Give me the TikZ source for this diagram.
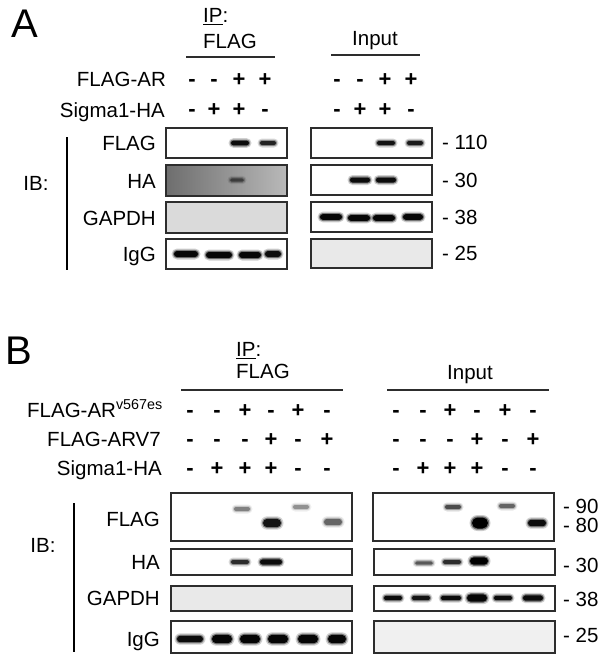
\documentclass[tikz,border=0pt]{standalone}
\usepackage{fontspec}
\setmainfont{Liberation Sans}
\usetikzlibrary{calc}
\definecolor{blot-frame}{RGB}{45, 45, 45}
\definecolor{blot-dark}{RGB}{110, 110, 110}
\definecolor{blot-mid}{RGB}{185, 185, 185}
\definecolor{blot-grey}{RGB}{218, 218, 218}
\definecolor{blot-light}{RGB}{233, 233, 233}
\definecolor{blot-pale}{RGB}{240, 240, 240}
\newcommand{\blotband}[5]{%
  \pgfmathsetmacro\bandhalo{0.2*#5}%
  \pgfmathsetmacro\bandmid{0.45*#5}%
  \pgfmathsetmacro\bandro{#4+2.5}%
  \pgfmathsetmacro\bandrm{#4+1.2}%
  \fill[black, opacity=\bandhalo, rounded corners=\bandro pt] ({#1-#3-2.5},{#2-#4-2.5}) rectangle ({#1+#3+2.5},{#2+#4+2.5});
  \fill[black, opacity=\bandmid, rounded corners=\bandrm pt] ({#1-#3-1.2},{#2-#4-1.2}) rectangle ({#1+#3+1.2},{#2+#4+1.2});
  \fill[black, opacity=#5, rounded corners=#4pt] ({#1-#3},{#2-#4}) rectangle ({#1+#3},{#2+#4});}

\begin{document}
\begin{tikzpicture}[x=1pt, y=-1pt,
    txt/.style={inner sep=0pt, text height=14.7pt, text depth=0pt, font=\fontsize{20.5}{24}\selectfont},
    sign/.style={inner sep=0pt, text height=15pt, text depth=0pt, font=\fontsize{22}{24}\selectfont\bfseries},
    panel/.style={inner sep=0pt, font=\fontsize{40}{42}\selectfont},
    blot/.style={draw=blot-frame, line width=1.3pt},
    bar/.style={draw=blot-frame, line width=1.8pt}]
\useasboundingbox (0,0) rectangle (604,664);

\node[panel] (lblA) at (25,24) {A};
\node[txt, anchor=west] (ipA) at (203,15) {\underline{IP}:};
\node[txt, anchor=west] (ipflagA) at (203,41) {FLAG};
\draw[bar] (186,57) -- (275,57);
\node[txt] (inputA) at (375,38) {Input};
\draw[bar] (331,55) -- (420,55);
\node[txt, anchor=east] (flagarA) at (166,79) {FLAG-AR};
\node[txt, anchor=east] (sigmaA) at (165,110) {Sigma1-HA};
\foreach \x/\s/\t in {192/-/-, 214/-/+, 239/+/+, 265/+/-, 337/-/-, 360/-/+, 385/+/+, 411/+/-} {
  \node[sign] at (\x,79) {\s};
  \node[sign] at (\x,109) {\t};
}
\node[txt] (ibA) at (36,183) {IB:};
\draw[line width=1.6pt] (67,137) -- (67,270);
\node[txt, anchor=east] (flagA) at (156,143) {FLAG};
\node[txt, anchor=east] (haA) at (156,181) {HA};
\node[txt, anchor=east] (gapdhA) at (156,218) {GAPDH};
\node[txt, anchor=east] (iggA) at (156,254) {IgG};
\node[txt, anchor=west] (kdaA1) at (442,142) {- 110};
\node[txt, anchor=west] (kdaA2) at (442,180) {- 30};
\node[txt, anchor=west] (kdaA3) at (442,217) {- 38};
\node[txt, anchor=west] (kdaA4) at (442,253) {- 25};

\filldraw[fill=white, blot] (166,128) rectangle (287,158);
\blotband{240}{143}{9}{2.3}{0.9}
\blotband{268}{143}{8}{2}{0.75}
\shade[left color=blot-dark, right color=blot-mid] (166,165) rectangle (287,196);
\blotband{237}{180}{7}{1.6}{0.45}
\draw[blot] (166,165) rectangle (287,196);
\filldraw[fill=blot-grey, blot] (166,202) rectangle (287,233);
\filldraw[fill=white, blot] (166,239) rectangle (287,269);
\blotband{186}{254}{12}{3}{0.95}
\blotband{219}{255}{13}{3}{0.95}
\blotband{250}{255}{11}{3}{0.95}
\blotband{273}{254}{8}{3}{0.9}

\filldraw[fill=white, blot] (311,128) rectangle (432,158);
\blotband{386}{143}{9}{2}{0.85}
\blotband{415}{143}{8}{2}{0.8}
\filldraw[fill=white, blot] (311,165) rectangle (432,195);
\blotband{360}{180}{10}{2.5}{0.9}
\blotband{386}{180}{10}{2.5}{0.9}
\filldraw[fill=white, blot] (311,202) rectangle (432,232);
\blotband{331}{217}{11}{2.8}{0.95}
\blotband{359}{218}{11}{2.8}{0.95}
\blotband{384}{218}{11}{2.8}{0.95}
\blotband{413}{217}{10}{2.8}{0.95}
\filldraw[fill=blot-light, blot] (311,239) rectangle (432,268);

\node[panel] (lblB) at (19,351) {B};
\node[txt, anchor=west] (ipB) at (236,349) {\underline{IP}:};
\node[txt, anchor=west] (ipflagB) at (236,371) {FLAG};
\draw[bar] (181,390) -- (343,390);
\node[txt] (inputB) at (470,372) {Input};
\draw[bar] (387,390) -- (549,390);
\node[txt, anchor=east] (flagv567B) at (163,410) {FLAG-AR\textsuperscript{v567es}};
\node[txt, anchor=east] (flagv7B) at (161,439) {FLAG-ARV7};
\node[txt, anchor=east] (sigmaB) at (162,468) {Sigma1-HA};
\foreach \x/\r/\s/\t in {190/-/-/-, 217/-/-/+, 245/+/-/+, 271/-/+/+, 298/+/-/-, 327/-/+/-,
                         396/-/-/-, 423/-/-/+, 450/+/-/+, 477/-/+/+, 505/+/-/-, 533/-/+/-} {
  \node[sign] at (\x,410) {\r};
  \node[sign] at (\x,439) {\s};
  \node[sign] at (\x,468) {\t};
}
\node[txt] (ibB) at (43,545) {IB:};
\draw[line width=1.6pt] (74,503) -- (74,652);
\node[txt, anchor=east] (flagB) at (160,519) {FLAG};
\node[txt, anchor=east] (haB) at (160,562) {HA};
\node[txt, anchor=east] (gapdhB) at (160,598) {GAPDH};
\node[txt, anchor=east] (iggB) at (160,639) {IgG};
\node[txt, anchor=west] (kdaB1) at (563,506) {- 90};
\node[txt, anchor=west] (kdaB2) at (563,525) {- 80};
\node[txt, anchor=west] (kdaB3) at (563,565) {- 30};
\node[txt, anchor=west] (kdaB4) at (563,599) {- 38};
\node[txt, anchor=west] (kdaB5) at (563,635) {- 25};

\filldraw[fill=white, blot] (171,493) rectangle (352,541);
\blotband{242}{509}{8}{2}{0.35}
\blotband{272}{523}{9}{4.2}{0.85}
\blotband{301}{507}{8}{2}{0.3}
\blotband{333}{522}{9}{3.2}{0.45}
\filldraw[fill=white, blot] (171,549) rectangle (352,575);
\blotband{240}{562}{9}{2}{0.7}
\blotband{271}{562}{11}{2.6}{0.9}
\filldraw[fill=blot-light, blot] (171,586) rectangle (352,611);
\filldraw[fill=white, blot] (171,621) rectangle (352,653);
\blotband{190}{639}{13}{3.2}{0.9}
\blotband{222}{639}{10}{4.2}{0.95}
\blotband{250}{639}{10}{4.2}{0.95}
\blotband{278}{639}{10}{4.2}{0.95}
\blotband{308}{639}{10}{4.2}{0.95}
\blotband{337}{639}{9}{4.2}{0.95}

\filldraw[fill=white, blot] (373,493) rectangle (554,541);
\blotband{453}{507}{8}{2}{0.55}
\blotband{480}{523}{8}{5.5}{1}
\blotband{507}{506}{8}{2}{0.45}
\blotband{537}{523}{9}{3.2}{0.9}
\filldraw[fill=white, blot] (374,549) rectangle (555,575);
\blotband{424}{563}{9}{1.6}{0.5}
\blotband{452}{562}{9}{2}{0.7}
\blotband{479}{561}{9}{3.6}{1}
\filldraw[fill=white, blot] (374,586) rectangle (555,611);
\blotband{393}{598}{9}{2.2}{0.9}
\blotband{421}{598}{9}{2.2}{0.85}
\blotband{451}{598}{10}{2.2}{0.9}
\blotband{477}{598}{10}{3.6}{0.95}
\blotband{503}{598}{9}{2.2}{0.9}
\blotband{533}{598}{10}{2.7}{0.9}
\filldraw[fill=blot-pale, blot] (374,621) rectangle (555,653);
\end{tikzpicture}
\end{document}
